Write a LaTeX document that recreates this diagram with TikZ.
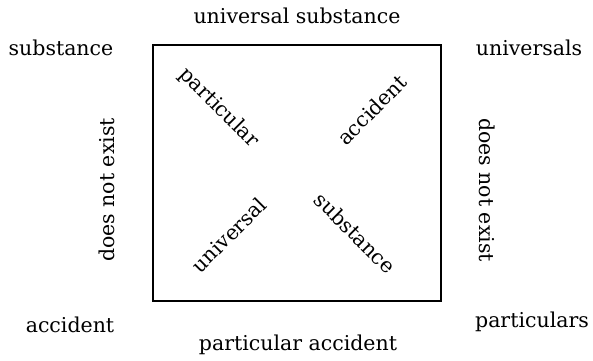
\documentclass[tikz,border=0pt]{standalone}
\usepackage{fontspec}
\setmainfont{DejaVu Serif}
\usepackage{tikz}
\usetikzlibrary{positioning}
\tikzset{
  word/.style  = {font=\fontsize{20.5}{24}\selectfont, inner sep=0pt, anchor=center},
  diag/.style  = {word},
  square/.style= {draw=black, line width=1.3pt}
}

\begin{document}
\begin{tikzpicture}[x=1pt, y=1pt]
  \useasboundingbox (0,0) rectangle (593,360);

  % --- the square
  \node[square, minimum width=288pt, minimum height=256pt, inner sep=0pt] (sq) at (297,187) {};

  % --- corners and sides
  \node[word] (topl)  at (297,344) {universal substance};
  \node[word] (botl)  at (298,15)  {particular accident};
  \node[word] (subst) at (61,312)  {substance};
  \node[word] (univ)  at (529,312) {universals};
  \node[word] (acc)   at (70,35)   {accident};
  \node[word] (part)  at (532,38)  {particulars};
  \node[word, rotate=90]  (dnel) at (107,170) {does not exist};
  \node[word, rotate=-90] (dner) at (487,170) {does not exist};

  % --- diagonals inside
  \node[diag, rotate=-45] (dpart) at (219,252) {particular};
  \node[diag, rotate=45]  (dacc)  at (372,250) {accident};
  \node[diag, rotate=45]  (duniv) at (229,125) {universal};
  \node[diag, rotate=-45] (dsub)  at (355,127) {substance};
\end{tikzpicture}
\end{document}
